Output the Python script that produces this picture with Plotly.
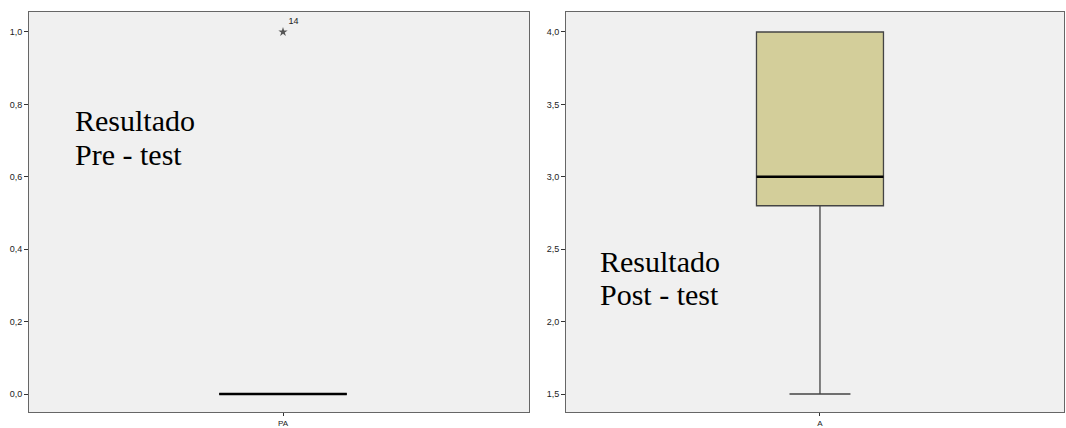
import plotly.graph_objects as go
from plotly.subplots import make_subplots

# ---- data ----
categories = ["PA", "A"]
pre_q1, pre_median, pre_q3 = [0.0], [0.0], [0.0]
pre_lower, pre_upper = [0.0], [0.0]
pre_outlier_y = [1.0]
pre_outlier_label = ["14"]

post_q1, post_median, post_q3 = [2.8], [3.0], [4.0]
post_lower, post_upper = [1.5], [4.0]

pre_ticks = [0.0, 0.2, 0.4, 0.6, 0.8, 1.0]
post_ticks = [1.5, 2.0, 2.5, 3.0, 3.5, 4.0]

panel_texts = [("Resultado", "Pre - test"), ("Resultado", "Post - test")]

# ---- style ----
BG = "#f0f0f0"
BOX_FILL = "#d3ce9a"
BOX_W = 0.51
FONT = "Liberation Sans"

fig = make_subplots(rows=1, cols=2, horizontal_spacing=0.035)

# Left: degenerate box at 0
fig.add_trace(go.Box(
    x=[0], q1=pre_q1, median=pre_median, q3=pre_q3,
    lowerfence=pre_lower, upperfence=pre_upper,
    width=BOX_W, fillcolor=BOX_FILL, line=dict(color="#333333", width=1),
    whiskerwidth=0.5, boxpoints=False, hoverinfo="skip", showlegend=False,
), row=1, col=1)
fig.add_trace(go.Scatter(
    x=[-BOX_W / 2, BOX_W / 2], y=[pre_median[0], pre_median[0]],
    mode="lines", line=dict(color="#000000", width=2.5),
    hoverinfo="skip", showlegend=False,
), row=1, col=1)
fig.add_trace(go.Scatter(
    x=[0], y=pre_outlier_y, mode="markers+text",
    marker=dict(symbol="star", size=7, color="#555555"),
    text=pre_outlier_label, textposition="top right",
    textfont=dict(family=FONT, size=9, color="#222222"),
    hoverinfo="skip", showlegend=False,
), row=1, col=1)

# Right: post-test box
fig.add_trace(go.Box(
    x=[0], q1=post_q1, median=post_median, q3=post_q3,
    lowerfence=post_lower, upperfence=post_upper,
    width=BOX_W, fillcolor=BOX_FILL, line=dict(color="#444444", width=1.3),
    whiskerwidth=0.48, boxpoints=False, hoverinfo="skip", showlegend=False,
), row=1, col=2)
fig.add_trace(go.Scatter(
    x=[-BOX_W / 2, BOX_W / 2], y=[post_median[0], post_median[0]],
    mode="lines", line=dict(color="#000000", width=2.5),
    hoverinfo="skip", showlegend=False,
), row=1, col=2)

axis_common = dict(
    showgrid=False, zeroline=False, showline=True, mirror=True,
    linecolor="#666666", linewidth=1, ticks="outside",
    tickcolor="#333333", automargin=False,
)
yfont = dict(family=FONT, size=9, color="#222222")
xfont = dict(family=FONT, size=8, color="#222222")

fig.update_xaxes(**axis_common, ticklen=3, tickfont=xfont, tickvals=[0],
                 ticktext=[categories[0]], range=[-1.016, 0.984],
                 domain=[29 / 1066, 529 / 1066], row=1, col=1)
fig.update_xaxes(**axis_common, ticklen=3, tickfont=xfont, tickvals=[0],
                 ticktext=[categories[1]], range=[-1.02, 0.98],
                 domain=[566 / 1066, 1064 / 1066], row=1, col=2)
fig.update_yaxes(**axis_common, ticklen=4, tickfont=yfont, tickvals=pre_ticks,
                 tickformat=".1f", range=[-0.0497, 1.0552], row=1, col=1)
fig.update_yaxes(**axis_common, ticklen=4, tickfont=yfont, tickvals=post_ticks,
                 tickformat=".1f", range=[1.3757, 4.138], row=1, col=2)

# Panel text labels
text_pos = [
    ("x domain", "y domain", 0.088, [0.73, 0.645]),
    ("x2 domain", "y2 domain", 0.065, [0.3775, 0.295]),
]
for (l1, l2), (xr, yr, xx, ys) in zip(panel_texts, text_pos):
    for txt, yy in zip((l1, l2), ys):
        fig.add_annotation(text=txt, xref=xr, yref=yr, x=xx, y=yy,
                           xanchor="left", yanchor="middle", showarrow=False,
                           font=dict(family="Liberation Serif", size=30, color="#000000"))

fig.update_layout(
    width=1066, height=428,
    margin=dict(l=0, r=0, t=12, b=16),
    paper_bgcolor="#ffffff", plot_bgcolor=BG,
    separators=",.",
    showlegend=False,
)

fig.write_html("out.html", config={"displayModeBar": False},
               post_script="document.body.style.margin='0';document.body.style.overflow='hidden';")
